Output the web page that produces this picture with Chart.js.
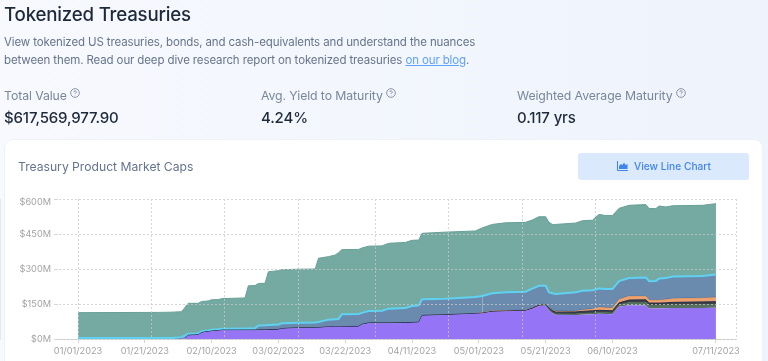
<!DOCTYPE html>
<html>
<head>
<meta charset="utf-8">
<title>Tokenized Treasuries</title>
<script src="https://cdn.jsdelivr.net/npm/chart.js@4"></script>
<style>
    html, body { margin: 0; padding: 0; }
    body {
        width: 768px; height: 361px; overflow: hidden; position: relative;
        background: linear-gradient(90deg, #f7f9fe, #eef3fc); font-family: Inter, sans-serif; color: #1e2939;
        filter: blur(0.4px);
    }
    .abs { position: absolute; white-space: nowrap; }
    h1 { margin: 0; left: 4px; top: 3px; font-size: 18.7px; line-height: 24px; font-weight: 500; letter-spacing: -0.2px; }
    .intro { left: 4px; color: #66758a; font-size: 11.5px; line-height: 18px; letter-spacing: -0.125px; }
    .intro a { color: #5ea2fa; text-decoration: underline; }
    .stat-label { top: 87px; color: #7a8799; font-size: 12.3px; line-height: 18px; letter-spacing: -0.1px; }
    .stat-label svg { vertical-align: 2px; margin-left: 0; }
    .stat-value { top: 108px; font-size: 15px; line-height: 20px; font-weight: 500; letter-spacing: -0.15px; }
    .card { left: 5px; top: 140px; width: 757px; height: 240px; background: #fff; border-radius: 8px; box-shadow: 0 0 0 1px #edf1f8; }
    .card-title { left: 18px; top: 158px; color: #64748f; font-size: 12.15px; line-height: 18px; }
    .btn {
        left: 578px; top: 153px; width: 171px; height: 27px; background: #dbe9fc; border-radius: 3px;
        color: #3f84f0; font-size: 10.2px; line-height: 27px; font-weight: 500;
    }
    .btn svg { position: absolute; left: 39px; top: 8px; }
    .btn span { position: absolute; left: 56px; }
    #chart-box { position: absolute; left: 0; top: 190px; width: 768px; height: 171px; }
</style>
</head>
<body>
<h1 class="abs">Tokenized Treasuries</h1>
<div class="abs intro" style="top:33px">View tokenized US treasuries, bonds, and cash-equivalents and understand the nuances</div>
<div class="abs intro" style="top:51px">between them. Read our deep dive research report on tokenized treasuries <a href="#">on our blog</a>.</div>

<div class="abs stat-label" style="left:4px">Total Value <svg width="10" height="10" viewBox="0 0 9 9"><circle cx="4.5" cy="4.5" r="3.9" fill="none" stroke="#7a8799" stroke-width=".8"/><path d="M3.4 3.6a1.1 1.1 0 1 1 1.6 1c-.4.2-.5.4-.5.8M4.5 6.6v.3" fill="none" stroke="#7a8799" stroke-width=".8"/></svg></div>
<div class="abs stat-value" style="left:4px">$617,569,977.90</div>
<div class="abs stat-label" style="left:261px;">Avg. Yield to Maturity <svg width="10" height="10" viewBox="0 0 9 9"><circle cx="4.5" cy="4.5" r="3.9" fill="none" stroke="#7a8799" stroke-width=".8"/><path d="M3.4 3.6a1.1 1.1 0 1 1 1.6 1c-.4.2-.5.4-.5.8M4.5 6.6v.3" fill="none" stroke="#7a8799" stroke-width=".8"/></svg></div>
<div class="abs stat-value" style="left:261px">4.24%</div>
<div class="abs stat-label" style="left:517px">Weighted Average Maturity <svg width="10" height="10" viewBox="0 0 9 9"><circle cx="4.5" cy="4.5" r="3.9" fill="none" stroke="#7a8799" stroke-width=".8"/><path d="M3.4 3.6a1.1 1.1 0 1 1 1.6 1c-.4.2-.5.4-.5.8M4.5 6.6v.3" fill="none" stroke="#7a8799" stroke-width=".8"/></svg></div>
<div class="abs stat-value" style="left:517px">0.117 yrs</div>

<div class="abs card"></div>
<div class="abs card-title">Treasury Product Market Caps</div>
<div class="abs btn">
    <svg width="11" height="10" viewBox="0 0 11 10"><path d="M.5 0v9.5H11" fill="none" stroke="#3f84f0" stroke-width="1"/><path d="M2 8V5l2-2 1.5 1L7 1.5 8.5 4 10.5 3v5z" fill="#3f84f0"/></svg>
    <span>View Line Chart</span>
</div>

<div id="chart-box"><canvas id="market-caps"></canvas></div>

<script>
// days since 01/01/2023
const days = [
    0, 24, 28, 31, 32, 33, 36, 37, 39, 40, 42, 43, 50, 51, 53, 54,
    56, 57, 60, 61, 66, 71, 72, 75, 77, 78, 79, 84, 85, 87, 91, 93,
    98, 100, 102, 103, 110, 119, 121, 124, 128, 134, 136, 138, 140, 141, 142, 143,
    149, 151, 154, 156, 158, 160, 162, 165, 170, 171, 173, 174, 176, 178, 187, 191
];

// market caps in $M, bottom of the stack first
const purpleSeries = [
    0, 0, 0, 0, 2, 15, 17, 27, 31, 33, 35, 37, 37, 37, 37, 38,
    38, 39, 40, 44, 47, 47, 48, 51, 52, 52, 52, 53, 62, 68, 68, 68,
    69, 70, 71, 100, 103, 108, 110, 117, 119, 121, 130, 143, 144, 122, 110, 104,
    103, 104, 106, 108, 107, 106, 138, 145, 144, 131, 131, 131, 132, 133, 133, 134
];
const greenSeries = [
    0, 0, 0, 0, 0, 0, 0, 0, 0, 0, 0, 0, 0, 0, 0, 0,
    0, 0, 0, 0, 0, 0, 0, 0, 0, 0, 0, 0, 0, 0, 0, 0,
    0, 0, 0, 0, 0, 0, 0, 0, 0, 0, 0, 0, 2, 4, 4, 3,
    4, 5, 5, 5, 5, 5, 8, 11, 12, 13, 13, 13, 13, 13, 14, 14
];
const darkSeries = [
    0, 0, 0, 0, 0, 1, 1, 1, 1, 1, 1, 1, 1, 1, 1, 1,
    1, 1, 1, 1, 1, 1, 1, 1, 1, 1, 1, 1, 1, 1, 1, 1,
    1, 1, 1, 1, 1, 1, 1, 1, 1, 1, 2, 2, 2, 6, 8, 8,
    9, 9, 10, 10, 10, 10, 9, 11, 12, 10, 10, 10, 10, 11, 12, 12
];
const orangeSeries = [
    0, 0, 0, 0, 0, 0, 0, 0, 0, 0, 0, 0, 0, 0, 0, 0,
    0, 0, 0, 0, 0, 0, 0, 0, 0, 0, 0, 0, 0, 0, 0, 0,
    0, 0, 0, 0, 0, 0, 1, 2, 1, 1, 1, 1, 1, 1, 2, 2,
    3, 5, 7, 12, 11, 11, 14, 16, 15, 12, 12, 12, 13, 15, 16, 17
];
const thinBlueSeries = [
    0, 0, 0, 0, 0, 0, 0, 0, 0, 0, 0, 0, 0, 0, 0, 0,
    0, 0, 0, 0, 0, 0, 0, 0, 0, 0, 0, 0, 0, 0, 0, 0,
    0, 0, 0, 0, 0, 0, 0, 1, 1, 1, 1, 1, 1, 1, 2, 2,
    2, 2, 2, 2, 2, 2, 2, 2, 2, 2, 2, 2, 2, 2, 2, 2
];
const steelSeries = [
    4, 4, 4, 8, 13, 7, 6, 5, 5, 6, 6, 6, 7, 7, 8, 19,
    20, 20, 21, 22, 22, 23, 24, 31, 32, 33, 53, 53, 49, 51, 52, 61,
    63, 70, 72, 69, 69, 71, 72, 75, 78, 79, 82, 81, 78, 66, 70, 74,
    79, 82, 79, 79, 79, 80, 77, 76, 79, 80, 81, 91, 91, 94, 93, 97
];
const tealSeries = [
    109, 110, 111, 109, 120, 130, 129, 128, 126, 128, 127, 129, 131, 183, 183, 180,
    180, 228, 231, 230, 229, 229, 273, 270, 275, 284, 277, 277, 278, 278, 278, 280,
    281, 282, 280, 283, 285, 283, 292, 295, 298, 297, 294, 296, 296, 300, 295, 298,
    297, 300, 300, 318, 315, 315, 312, 312, 312, 311, 310, 311, 305, 303, 303, 304
];

// axis ticks
const labelDays = [0, 20, 40, 60, 80, 100, 120, 140, 160, 191];
const dateLabels = ['01/01/2023', '01/21/2023', '02/10/2023', '03/02/2023', '03/22/2023',
    '04/11/2023', '05/01/2023', '05/21/2023', '06/10/2023', '07/11/2023'];
const gridDays = [0, 22, 44, 66, 89, 111, 133, 155, 197];
const valueTicks = [0, 150, 300, 450, 600];

const gridColor = 'rgba(200, 200, 200, 0.75)';
const axisColor = '#d6d6d6';
const tickFont = { family: 'Inter', size: 9.2 };

function makeDataset(label, values, fillColor, lineColor, lineWidth, fillTarget) {
    return {
        label: label,
        data: values.map((v, i) => ({ x: days[i], y: v })),
        backgroundColor: fillColor,
        borderColor: lineColor,
        borderWidth: lineWidth,
        fill: fillTarget,
        pointRadius: 0,
        tension: 0,
        // layers that have not launched yet should not draw along the baseline
        segment: {
            borderColor: ctx => (ctx.p0.parsed.y === 0 && ctx.p1.parsed.y === 0) ? 'transparent' : undefined
        }
    };
}

// the top value label sits a little under its grid line in the original
const nudgeTopLabel = {
    id: 'nudgeTopLabel',
    beforeDraw(chart) {
        const items = chart.scales.y.getLabelItems(chart.chartArea);
        items[items.length - 1].options.translation[1] += 3;
    }
};

new Chart(document.getElementById('market-caps'), {
    type: 'line',
    plugins: [nudgeTopLabel],
    data: {
        datasets: [
            makeDataset('Purple', purpleSeries, '#9575f5', '#9575f5', 0, 'origin'),
            makeDataset('Green', greenSeries, '#58725f', '#4d6a58', 1, '-1'),
            makeDataset('Dark', darkSeries, '#3d4146', '#222c48', 1, '-1'),
            makeDataset('Orange', orangeSeries, '#eda26f', '#e8985f', 1, '-1'),
            makeDataset('Thin blue', thinBlueSeries, '#3a78b8', '#3272b5', 1, '-1'),
            makeDataset('Steel', steelSeries, '#6b8bae', '#5fd2f2', 2, '-1'),
            makeDataset('Teal', tealSeries, '#74aaa2', '#679f97', 1, '-1')
        ]
    },
    options: {
        responsive: true,
        maintainAspectRatio: false,
        animation: false,
        layout: { padding: { top: 9, right: 32, left: 0, bottom: 0 } },
        plugins: { legend: { display: false }, tooltip: { enabled: false } },
        scales: {
            x: {
                type: 'linear',
                min: -6,
                max: 197,
                afterBuildTicks: axis => { axis.ticks = labelDays.map(v => ({ value: v })); },
                afterFit: axis => { axis.height = 22; },
                grid: { drawOnChartArea: false, drawTicks: true, tickLength: 4, tickColor: axisColor },
                border: { color: axisColor },
                ticks: {
                    autoSkip: false,
                    maxRotation: 0,
                    padding: 3,
                    color: '#a3a3a3',
                    font: tickFont,
                    callback: value => dateLabels[labelDays.indexOf(value)]
                }
            },
            // second axis only for the vertical grid, which does not line up with the date ticks
            xGrid: {
                type: 'linear',
                position: 'bottom',
                min: -6,
                max: 197,
                afterBuildTicks: axis => { axis.ticks = gridDays.map(v => ({ value: v })); },
                afterFit: axis => { axis.height = 0; },
                grid: { color: gridColor, tickLength: 0, drawTicks: false, z: 1 },
                border: { display: false, dash: [2, 2] },
                ticks: { display: false, autoSkip: false }
            },
            y: {
                stacked: true,
                min: 0,
                max: 600,
                afterBuildTicks: axis => { axis.ticks = valueTicks.map(v => ({ value: v })); },
                afterFit: axis => { axis.width = 58; },
                grid: { color: gridColor, tickLength: 4, tickColor: axisColor, z: 1 },
                border: { color: axisColor, dash: [2, 2] },
                ticks: {
                    padding: 3,
                    color: '#a3a3a3',
                    font: tickFont,
                    callback: value => `$${value}M`
                }
            }
        }
    }
});
</script>
</body>
</html>
